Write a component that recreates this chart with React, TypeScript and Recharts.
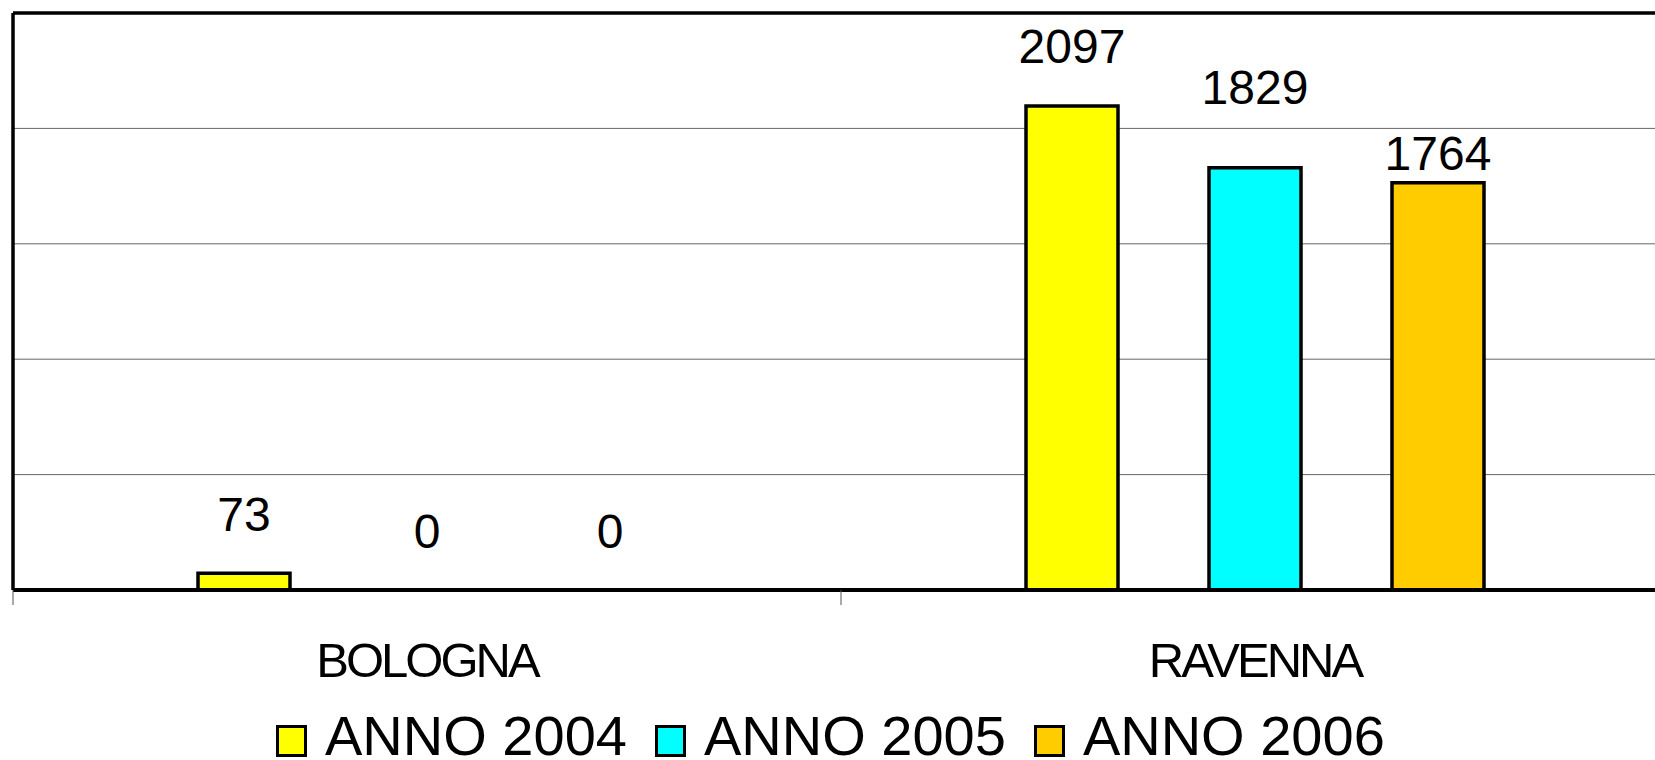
import React from "react";
import {
  BarChart,
  Bar,
  XAxis,
  YAxis,
  CartesianGrid,
  LabelList,
  ReferenceLine,
} from "recharts";

const categories = ["BOLOGNA", "RAVENNA"];
const anno2004 = [73, 2097];
const anno2005 = [0, 1829];
const anno2006 = [0, 1764];
const seriesNames = ["ANNO 2004", "ANNO 2005", "ANNO 2006"];
const seriesColors = ["#FFFF00", "#00FFFF", "#FFCC00"];
const yTicks = [0, 500, 1000, 1500, 2000, 2500];

// how far above its bar each value label sits (the labels were hand-placed)
const labelLift: Record<string, number[]> = {
  a2004: [42, 43],
  a2005: [42, 64],
  a2006: [42, 13],
};

const data = categories.map((c, i) => ({
  name: c,
  a2004: anno2004[i],
  a2005: anno2005[i],
  a2006: anno2006[i],
}));
const keys = ["a2004", "a2005", "a2006"];

const FONT = '"Liberation Sans", Arial, sans-serif';

const makeValueLabel = (k: string) => (props: any) => {
  const { x, y, width, value, index } = props;
  const lift = labelLift[k][index] ?? 42;
  return (
    <text
      x={Number(x) + Number(width) / 2}
      y={Number(y) - lift}
      textAnchor="middle"
      fontFamily={FONT}
      fontSize={48}
      fill="#000"
    >
      {value}
    </text>
  );
};

const NoTick = () => <g />;

const CategoryTick = (props: any) => {
  const { x, y, payload, index } = props;
  const half = payload && payload.offset ? payload.offset : 414;
  return (
    <g>
      <line x1={x - half} y1={y} x2={x - half} y2={y + 15} stroke="#555" strokeWidth={1} />
      {index === categories.length - 1 && (
        <line x1={x + half} y1={y} x2={x + half} y2={y + 15} stroke="#555" strokeWidth={1} />
      )}
      <text
        x={x}
        y={y + 87}
        textAnchor="middle"
        fontFamily={FONT}
        fontSize={49}
        letterSpacing={-3}
        fill="#000"
      >
        {payload.value}
      </text>
    </g>
  );
};

export default function App() {
  return (
    <div
      style={{
        position: "fixed",
        left: 0,
        top: 0,
        width: 1655,
        height: 760,
        overflow: "hidden",
        background: "#fff",
      }}
    >
      <BarChart
        width={1669}
        height={760}
        data={data}
        margin={{ top: 13, right: 0, left: 12, bottom: 0 }}
        barGap={91}
        barSize={92}
      >
        <CartesianGrid vertical={false} stroke="#666" strokeWidth={1} />
        <YAxis
          domain={[0, 2500]}
          ticks={yTicks}
          width={1}
          tick={<NoTick />}
          tickLine={false}
          axisLine={{ stroke: "#000", strokeWidth: 3.5 }}
        />
        <XAxis
          dataKey="name"
          height={170}
          tickSize={0}
          tickMargin={0}
          tickLine={false}
          interval={0}
          axisLine={{ stroke: "#000", strokeWidth: 4 }}
          tick={<CategoryTick />}
        />
        <ReferenceLine y={2500} stroke="#000" strokeWidth={3.5} />
        {keys.map((k, i) => (
          <Bar
            key={k}
            dataKey={k}
            name={seriesNames[i]}
            fill={seriesColors[i]}
            stroke="#000"
            strokeWidth={3.5}
            minPointSize={0.01}
            isAnimationActive={false}
          >
            <LabelList dataKey={k} content={makeValueLabel(k)} />
          </Bar>
        ))}
      </BarChart>
      <div
        style={{
          position: "absolute",
          left: 276,
          top: 714,
          display: "flex",
          alignItems: "flex-start",
          fontFamily: FONT,
          fontSize: 56,
          lineHeight: 0.8,
          whiteSpace: "nowrap",
        }}
      >
        {seriesNames.map((s, i) => (
          <div key={s} style={{ display: "flex", alignItems: "flex-start", marginRight: 28 }}>
            <div
              style={{
                width: 31,
                height: 32,
                marginTop: 11,
                marginRight: 18,
                boxSizing: "border-box",
                border: "3px solid #000",
                background: seriesColors[i],
              }}
            />
            <span>{s}</span>
          </div>
        ))}
      </div>
    </div>
  );
}
